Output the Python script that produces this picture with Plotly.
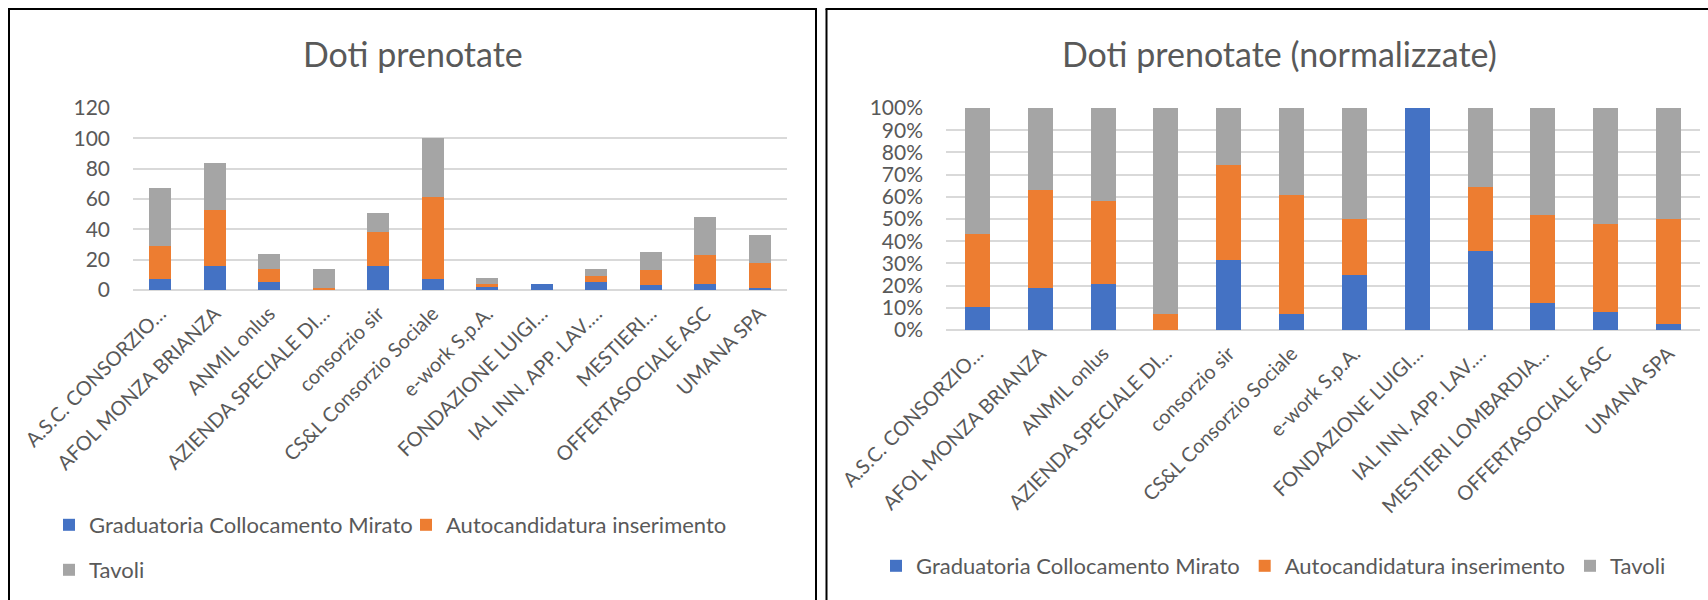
import plotly.graph_objects as go

# ---------------- data ----------------
categories = [
    "A.S.C. CONSORZIO…", "AFOL MONZA BRIANZA", "ANMIL onlus", "AZIENDA SPECIALE DI…",
    "consorzio sir", "CS&L Consorzio Sociale", "e-work S.p.A.", "FONDAZIONE LUIGI…",
    "IAL INN. APP. LAV.…", "MESTIERI LOMBARDIA…", "OFFERTASOCIALE ASC", "UMANA SPA",
]
labels_left = [
    "A.S.C. CONSORZIO…", "AFOL MONZA BRIANZA", "ANMIL onlus", "AZIENDA SPECIALE DI…",
    "consorzio sir", "CS&L Consorzio Sociale", "e-work S.p.A.", "FONDAZIONE LUIGI…",
    "IAL INN. APP. LAV.…", "MESTIERI…", "OFFERTASOCIALE ASC", "UMANA SPA",
]
labels_right = list(categories)

graduatoria = [7, 16, 5, 0, 16, 7, 2, 4, 5, 3, 4, 1]
autocandidatura = [22, 37, 9, 1, 22, 54, 2, 0, 4, 10, 19, 17]
tavoli = [38, 31, 10, 13, 13, 39, 4, 0, 5, 12, 25, 18]

series_names = ["Graduatoria Collocamento Mirato", "Autocandidatura inserimento", "Tavoli"]
series_values = [graduatoria, autocandidatura, tavoli]
colors = ["#4472C4", "#ED7D31", "#A5A5A5"]

totals = [a + b + c for a, b, c in zip(graduatoria, autocandidatura, tavoli)]
normalized = [[v / t if t else 0 for v, t in zip(s, totals)] for s in series_values]

# ---------------- figure ----------------
W, H = 1708, 600
FONT = "Lato"
TXT = "#595959"
GRID = "#D9D9D9"


def px(x):
    return x / W


def py(y):
    return 1 - y / H


fig = go.Figure()

left_legends = ["legend2", "legend2", "legend3"]
for name, vals, col, lg in zip(series_names, series_values, colors, left_legends):
    fig.add_trace(go.Bar(
        x=categories, y=vals, name=name, marker=dict(color=col, line=dict(width=0)),
        xaxis="x", yaxis="y", legend=lg, hoverinfo="x+y+name",
    ))

for name, vals, col in zip(series_names, normalized, colors):
    fig.add_trace(go.Bar(
        x=categories, y=vals, name=name, marker=dict(color=col, line=dict(width=0)),
        xaxis="x2", yaxis="y2", legend="legend", hoverinfo="x+y+name",
    ))

tickfont = dict(family=FONT, size=20, color=TXT)
legfont = dict(family=FONT, size=22, color=TXT)

fig.update_layout(
    width=W, height=H,
    margin=dict(l=0, r=0, t=0, b=0, pad=0, autoexpand=False),
    paper_bgcolor="white", plot_bgcolor="white",
    barmode="stack", bargap=0.6,
    font=dict(family=FONT, color=TXT),
    xaxis=dict(
        domain=[px(133), px(787)], anchor="y", type="category",
        tickmode="array", tickvals=categories, ticktext=labels_left,
        tickangle=-45, tickfont=tickfont, showgrid=False, automargin=False,
        showline=False, ticks="", ticklabelstandoff=7,
    ),
    yaxis=dict(
        domain=[py(290), py(108)], anchor="x", range=[0, 120], dtick=20,
        tickfont=dict(family=FONT, size=21, color=TXT), automargin=False,
        showgrid=True, gridcolor=GRID, gridwidth=2,
        zeroline=True, zerolinecolor=GRID, zerolinewidth=2,
        showline=False, ticks="", ticklabelstandoff=22,
    ),
    xaxis2=dict(
        domain=[px(946), px(1700)], anchor="y2", type="category",
        tickmode="array", tickvals=categories, ticktext=labels_right,
        tickangle=-45, tickfont=tickfont, showgrid=False, automargin=False,
        showline=False, ticks="", ticklabelstandoff=7,
    ),
    yaxis2=dict(
        domain=[py(330), py(108)], anchor="x2", range=[0, 1], dtick=0.1,
        tickformat=".0%", automargin=False,
        tickfont=dict(family=FONT, size=21, color=TXT),
        showgrid=True, gridcolor=GRID, gridwidth=2,
        zeroline=True, zerolinecolor=GRID, zerolinewidth=2,
        showline=False, ticks="", ticklabelstandoff=22,
    ),
    legend=dict(
        orientation="h", x=px(876), y=py(566), xanchor="left", yanchor="middle",
        font=legfont, bgcolor="rgba(0,0,0,0)", traceorder="normal",
    ),
    legend2=dict(
        orientation="h", x=px(49), y=py(525), xanchor="left", yanchor="middle",
        font=legfont, bgcolor="rgba(0,0,0,0)", traceorder="normal",
        entrywidth=312, entrywidthmode="pixels",
    ),
    legend3=dict(
        orientation="h", x=px(49), y=py(570), xanchor="left", yanchor="middle",
        font=legfont, bgcolor="rgba(0,0,0,0)", traceorder="normal",
    ),
    annotations=[
        dict(text="Doti prenotate", x=px(413), y=py(54), xref="paper", yref="paper",
             xanchor="center", yanchor="middle", showarrow=False,
             font=dict(family=FONT, size=34, color=TXT)),
        dict(text="Doti prenotate (normalizzate)", x=px(1279), y=py(54), xref="paper", yref="paper",
             xanchor="center", yanchor="middle", showarrow=False,
             font=dict(family=FONT, size=34, color=TXT)),
    ],
    shapes=[
        dict(type="line", xref="paper", yref="paper", x0=px(9), x1=px(9), y0=0, y1=py(9),
             line=dict(color="black", width=2)),
        dict(type="line", xref="paper", yref="paper", x0=px(8), x1=px(817), y0=py(9), y1=py(9),
             line=dict(color="black", width=2)),
        dict(type="line", xref="paper", yref="paper", x0=px(816), x1=px(816), y0=0, y1=py(9),
             line=dict(color="black", width=2)),
        dict(type="line", xref="paper", yref="paper", x0=px(826.5), x1=px(826.5), y0=0, y1=py(9),
             line=dict(color="black", width=2)),
        dict(type="line", xref="paper", yref="paper", x0=px(825.5), x1=1, y0=py(9), y1=py(9),
             line=dict(color="black", width=2)),
    ],
)

fig.write_html(
    "out.html",
    config={"displayModeBar": False},
    post_script="document.body.style.margin='0';document.body.style.overflow='hidden';",
)
